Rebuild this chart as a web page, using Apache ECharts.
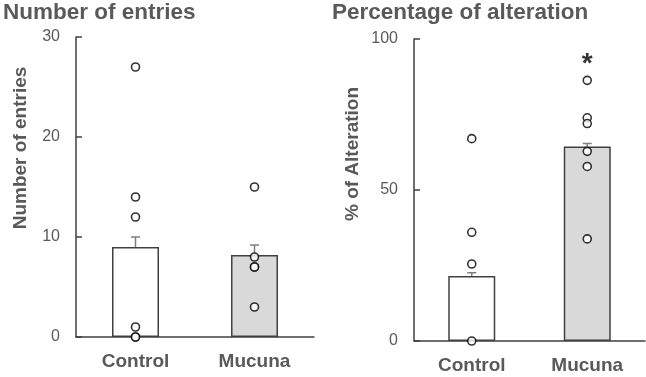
<!DOCTYPE html>
<html>
<head>
<meta charset="utf-8">
<script src="https://cdn.jsdelivr.net/npm/echarts@6/dist/echarts.min.js"></script>
<style>
  html, body { margin: 0; padding: 0; background: #fff; }
  #chart { width: 646px; height: 377px; }
</style>
</head>
<body>
<div id="chart"></div>
<script>
// data
const categories = ["Control", "Mucuna"];
const entriesMean = [9.0, 8.2];
const entriesSem = [1.0, 1.0];
const entriesControl = [27, 14, 12, 1, 0, 0];
const entriesMucuna = [15, 8, 7, 7, 3];
const entriesTicks = [0, 10, 20, 30];

const altMean = [21.5, 64.4];
const altSem = [1.1, 1.0];
const altControl = [67, 36, 25.5, 0];
const altMucuna = [86.3, 73.9, 72, 62.8, 57.8, 33.8];
const altTicks = [0, 50, 100];
const starValue = 93.5;

const FONT = "Liberation Sans, Arial, sans-serif";
const GREY = "#595959";
const DARK = "#404040";
const barColors = ["#ffffff", "#d9d9d9"];

function pointsFor(ctrl, muc) {
  return ctrl.map(v => [categories[0], v]).concat(muc.map(v => [categories[1], v]));
}

function errData(mean, sem) {
  return mean.map((m, i) => [i, m, m + sem[i]]);
}

function renderErr(params, api) {
  const x = api.value(0);
  const lo = api.coord([x, api.value(1)]);
  const hi = api.coord([x, api.value(2)]);
  const cap = 4.5;
  const style = { stroke: "#7f7f7f", lineWidth: 1.5 };
  return {
    type: "group",
    children: [
      { type: "line", shape: { x1: lo[0], y1: lo[1], x2: hi[0], y2: hi[1] }, style: style },
      { type: "line", shape: { x1: hi[0] - cap, y1: hi[1], x2: hi[0] + cap, y2: hi[1] }, style: style }
    ]
  };
}

function xAxisFor(gi) {
  return {
    type: "category",
    gridIndex: gi,
    data: categories,
    axisLine: { lineStyle: { color: DARK, width: 1.5 } },
    axisTick: { show: false },
    axisLabel: { color: GREY, fontSize: 19, fontWeight: "bold", fontFamily: FONT, margin: 15 }
  };
}

// shift = how far the rotated name sits above the axis middle
function yAxisFor(gi, ticks, name, gap, shift) {
  return {
    type: "value",
    gridIndex: gi,
    min: ticks[0],
    max: ticks[ticks.length - 1],
    interval: ticks[1] - ticks[0],
    name: name,
    nameLocation: "middle",
    nameGap: gap,
    nameTextStyle: {
      color: GREY, fontSize: 19, fontWeight: "bold", fontFamily: FONT,
      padding: [0, 0, 0, shift * 2]
    },
    axisLine: { show: true, lineStyle: { color: DARK, width: 1.5 } },
    axisTick: { show: true, inside: true, length: 6, lineStyle: { color: DARK, width: 1.5 } },
    axisLabel: { color: GREY, fontSize: 16, fontFamily: FONT, margin: 16 },
    splitLine: { show: false }
  };
}

function seriesFor(gi, mean, sem, ctrl, muc) {
  return [
    {
      type: "bar",
      xAxisIndex: gi,
      yAxisIndex: gi,
      barWidth: 47,
      data: mean.map((v, i) => ({
        value: v,
        itemStyle: { color: barColors[i], borderColor: DARK, borderWidth: 1.5 }
      })),
      z: 2
    },
    {
      type: "custom",
      xAxisIndex: gi,
      yAxisIndex: gi,
      renderItem: renderErr,
      data: errData(mean, sem),
      z: 3
    },
    {
      type: "scatter",
      xAxisIndex: gi,
      yAxisIndex: gi,
      symbol: "circle",
      symbolSize: 8,
      itemStyle: { color: "#ffffff", borderColor: "#000000", borderWidth: 1.6 },
      data: pointsFor(ctrl, muc),
      z: 4
    }
  ];
}

const chart = echarts.init(document.getElementById("chart"));
chart.setOption({
  animation: false,
  backgroundColor: "#ffffff",
  title: [
    { text: "Number of entries", left: 3, top: 1, padding: 0,
      textStyle: { color: GREY, fontSize: 22.5, fontWeight: "bold", fontFamily: FONT } },
    { text: "Percentage of alteration", left: 332, top: 1, padding: 0,
      textStyle: { color: GREY, fontSize: 22.5, fontWeight: "bold", fontFamily: FONT } }
  ],
  grid: [
    { left: 76, top: 37, width: 238, height: 300 },
    { left: 414, top: 39, width: 231, height: 302 }
  ],
  xAxis: [xAxisFor(0), xAxisFor(1)],
  yAxis: [
    yAxisFor(0, entriesTicks, "Number of entries", 46, 39),
    yAxisFor(1, altTicks, "% of Alteration", 52, 36)
  ],
  series: seriesFor(0, entriesMean, entriesSem, entriesControl, entriesMucuna)
    .concat(seriesFor(1, altMean, altSem, altControl, altMucuna))
    .concat([{
      type: "scatter",
      xAxisIndex: 1,
      yAxisIndex: 1,
      symbolSize: 1,
      itemStyle: { color: "rgba(0,0,0,0)" },
      label: {
        show: true, position: "inside", formatter: "*",
        color: "#000", fontSize: 28, fontWeight: "bold", fontFamily: FONT, offset: [0, 6]
      },
      data: [[categories[1], starValue]],
      z: 5
    }])
});
</script>
</body>
</html>
